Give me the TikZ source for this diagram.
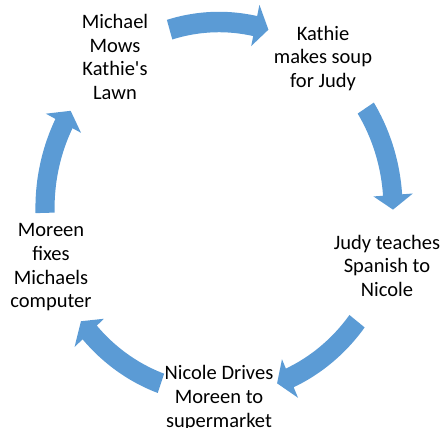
\documentclass[tikz,border=0pt]{standalone}
\usepackage{fontspec}
\setmainfont{Carlito}
\definecolor{arrowblue}{HTML}{5B9BD5}
\begin{document}
\begin{tikzpicture}[x=1pt,y=-1pt,
  lbl/.style={align=center, inner sep=0pt, anchor=north, text=black,
    font=\fontsize{20.5}{23.6}\selectfont},
  cyclearrow/.style={fill=arrowblue, draw=none}]
\useasboundingbox (0,0) rectangle (442,428);
\node[lbl] (michael) at (115,11.8) {\strut Michael\\\strut Mows\\\strut Kathie\textquotesingle s\\\strut Lawn};
\node[lbl] (kathie) at (323,23.5) {\strut Kathie\\\strut makes soup\\\strut for Judy};
\node[lbl] (judy) at (387,232.5) {\strut Judy teaches\\\strut Spanish to\\\strut Nicole};
\node[lbl] (nicole) at (219,363.2) {\strut Nicole Drives\\\strut Moreen to\\\strut supermarket};
\node[lbl] (moreen) at (51,220.2) {\strut Moreen\\\strut fixes\\\strut Michaels\\\strut computer};
\begin{scope}[shift={(219pt,-208pt)}, x=174pt, y=186pt]
\foreach \c in {90,16,-54,-126,165} {
  \fill[cyclearrow] plot[domain={\c+16.5}:{\c-12}, samples=25] (\x:1.055)
    -- ({\c-12}:1.117) -- ({\c-16.5}:1) -- ({\c-12}:0.89)
    -- plot[domain={\c-12}:{\c+16.5}, samples=25] (\x:0.945) -- cycle;
}
\end{scope}
\end{tikzpicture}
\end{document}
